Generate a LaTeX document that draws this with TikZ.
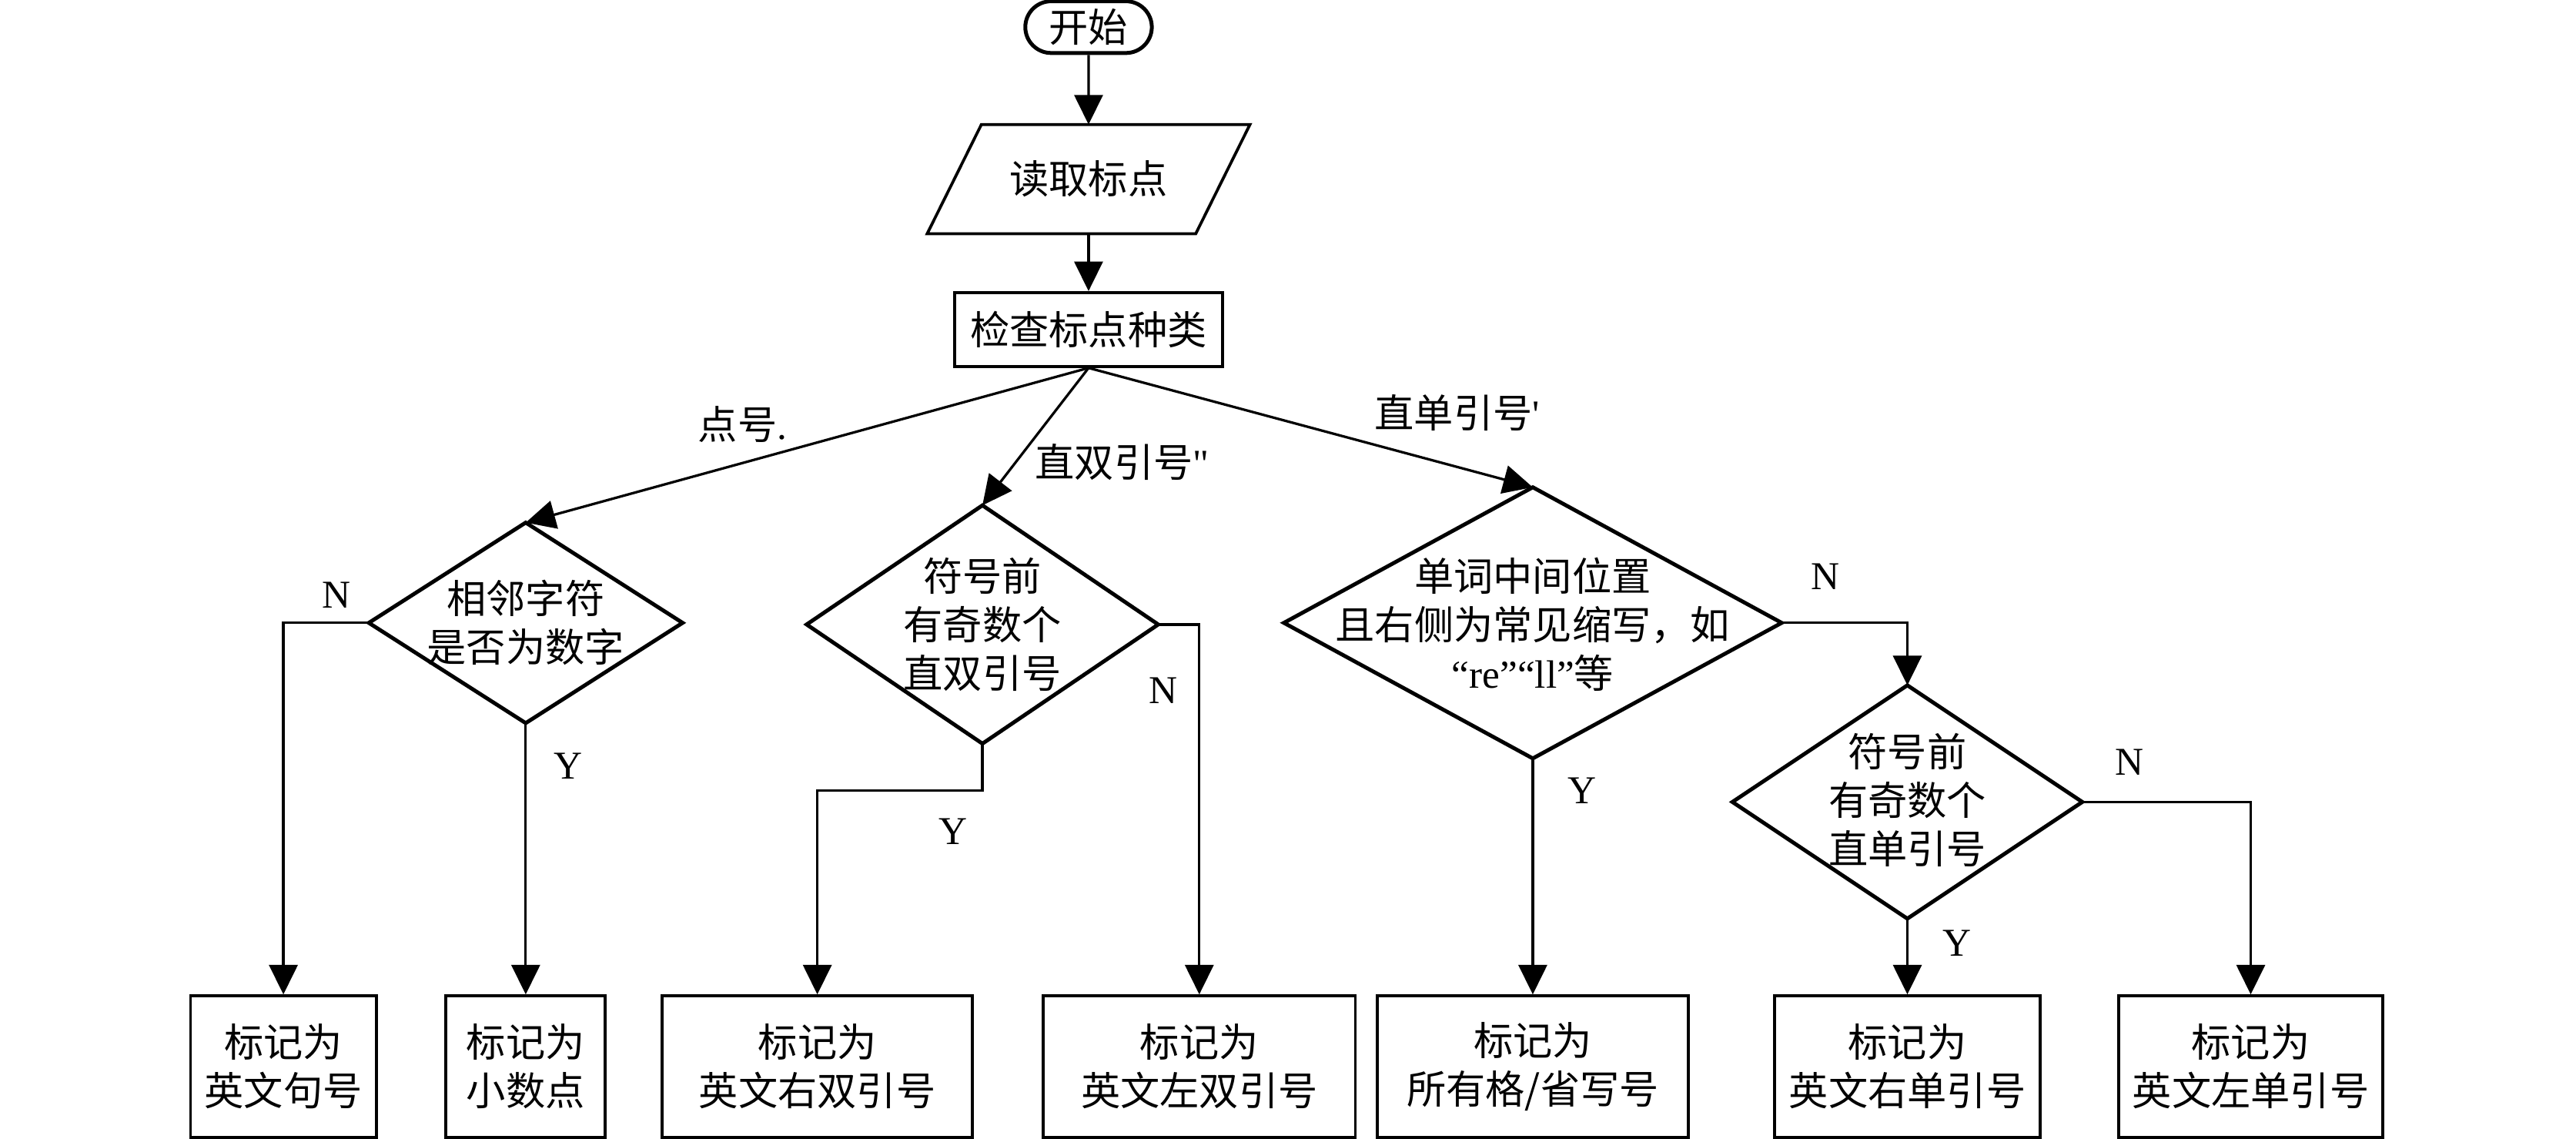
\documentclass[tikz,border=0pt]{standalone}
\usepackage{fontspec}
\setmainfont{Liberation Serif}
\newfontfamily\cjk{Noto Sans CJK SC}
\newfontfamily\rawserif{Liberation Serif}[Ligatures=TeXOff]
\usetikzlibrary{shapes.geometric,shapes.misc,arrows.meta}
\tikzset{
  txt/.style={font=\fontsize{20.5}{25.2}\selectfont, align=center, inner sep=0pt},
  conn/.style={line width=1.3pt, -{Triangle[length=5.4mm,width=5.2mm]}},
  boxsh/.style={txt, draw, line width=1.5pt, rectangle},
  termsh/.style={txt, draw, line width=2pt, rounded rectangle},
  diash/.style={draw, diamond, line width=2pt, inner sep=0pt, outer sep=0pt},
  lbl/.style={txt}
}
\begin{document}
\begin{tikzpicture}[x=0.3mm,y=-0.3mm]
\useasboundingbox (0,0) rectangle (1568,693);

% top column
\node[termsh, minimum width=23.1mm, minimum height=9.45mm] (start) at (662.6,16.5) {\cjk 开始};
\node[txt, minimum width=48.9mm, minimum height=19.8mm] (read) at (662.6,109) {\cjk 读取标点};
\draw[line width=1.5pt] ([xshift=4.95mm]read.north west) -- ([xshift=4.95mm]read.north east)
  -- ([xshift=-4.95mm]read.south east) -- ([xshift=-4.95mm]read.south west) -- cycle;
\node[boxsh, minimum width=48.9mm, minimum height=13.5mm] (check) at (662.6,200.5) {\cjk 检查标点种类};

% diamonds
\node[diash, minimum width=57.3mm, minimum height=36.6mm] (d1) at (320,379) {};
\node[txt] (d1t) at (320,379) {\cjk 相邻字符\\\cjk 是否为数字};
\node[diash, minimum width=64.2mm, minimum height=43.5mm] (d2) at (598,380) {};
\node[txt] (d2t) at (598,380) {\cjk 符号前\\\cjk 有奇数个\\\cjk 直双引号};
\node[diash, minimum width=90.9mm, minimum height=49.5mm] (d3) at (933,379) {};
\node[txt] (d3t) at (933,380) {\cjk 单词中间位置\\\cjk 且右侧为常见缩写，如\\“re”“ll”{\cjk 等}};
\node[diash, minimum width=63.9mm, minimum height=42.6mm] (d4) at (1161,488) {};
\node[txt] (d4t) at (1161,487) {\cjk 符号前\\\cjk 有奇数个\\\cjk 直单引号};

% bottom boxes
\node[boxsh, minimum width=33.9mm, minimum height=25.8mm] (b1) at (172.5,649) {\cjk 标记为\\\cjk 英文句号};
\node[boxsh, minimum width=29.1mm, minimum height=25.8mm] (b2) at (320,649) {\cjk 标记为\\\cjk 小数点};
\node[boxsh, minimum width=56.7mm, minimum height=25.8mm] (b3) at (497.5,649) {\cjk 标记为\\\cjk 英文右双引号};
\node[boxsh, minimum width=57mm, minimum height=25.8mm] (b4) at (730,649) {\cjk 标记为\\\cjk 英文左双引号};
\node[boxsh, minimum width=56.7mm, minimum height=25.8mm] (b5) at (933,649) {\cjk 标记为\\\cjk 所有格/省写号};
\node[boxsh, minimum width=48.6mm, minimum height=25.8mm] (b6) at (1161,649) {\cjk 标记为\\\cjk 英文右单引号};
\node[boxsh, minimum width=48.3mm, minimum height=25.8mm] (b7) at (1370,649) {\cjk 标记为\\\cjk 英文左单引号};

% connectors
\draw[conn] (start) -- (read);
\draw[conn] (read) -- (check);
\draw[conn] (check.south) -- (d1.north);
\draw[conn] (check.south) -- (d2.north);
\draw[conn] (check.south) -- (d3.north);
\draw[conn] (d1.west) -| (b1.north);
\draw[conn] (d1.south) -- (b2.north);
\coordinate (e2) at (598,481);
\draw[conn] (d2.south) -- (e2) -| (b3.north);
\draw[conn] (d2.east) -| (b4.north);
\draw[conn] (d3.east) -| (d4.north);
\draw[conn] (d3.south) -- (b5.north);
\draw[conn] (d4.south) -- (b6.north);
\draw[conn] (d4.east) -| (b7.north);

% labels
\node[lbl] (l1) at (452,258) {{\cjk 点号}.};
\node[lbl] (l2) at (683,281) {{\cjk 直双引号}{\rawserif "}};
\node[lbl] (l3) at (887,251) {{\cjk 直单引号}{\rawserif '}};
\node[lbl] (n1) at (205,362) {N};
\node[lbl] (y1) at (346,466) {Y};
\node[lbl] (n2) at (708,420) {N};
\node[lbl] (y2) at (580,506) {Y};
\node[lbl] (n3) at (1111,351) {N};
\node[lbl] (y3) at (963,481) {Y};
\node[lbl] (n4) at (1296,464) {N};
\node[lbl] (y4) at (1191,574) {Y};
\end{tikzpicture}
\end{document}
